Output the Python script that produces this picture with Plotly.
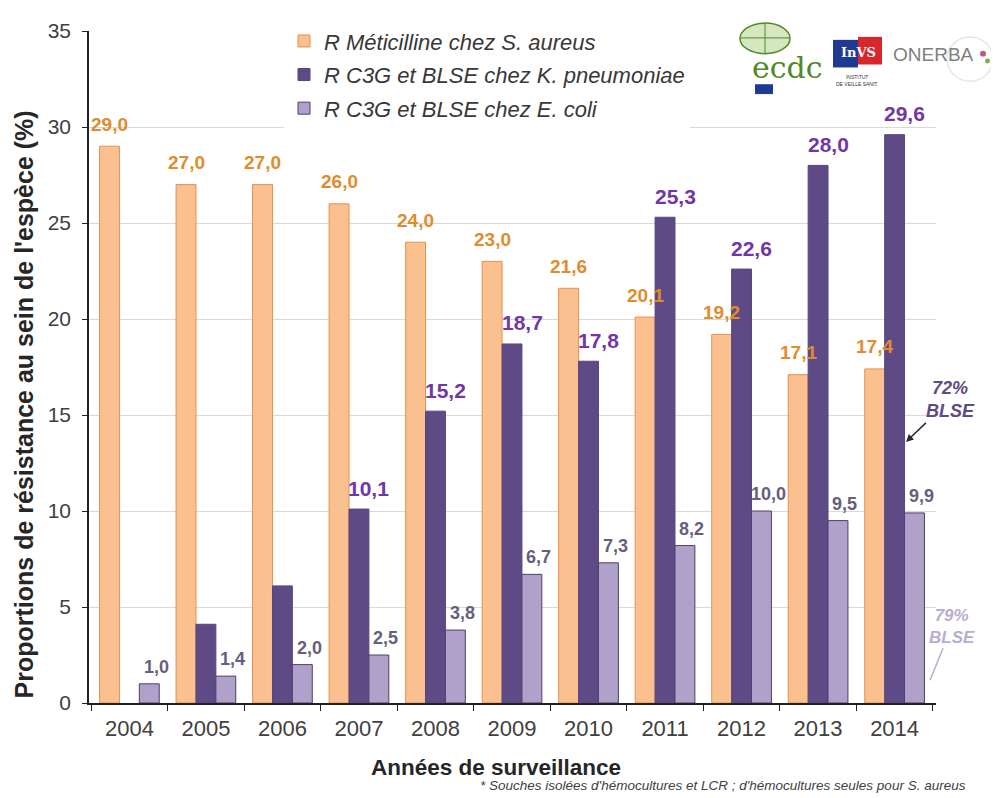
import plotly.graph_objects as go

years = ["2004", "2005", "2006", "2007", "2008", "2009", "2010", "2011", "2012", "2013", "2014"]
s_aureus = [29.0, 27.0, 27.0, 26.0, 24.0, 23.0, 21.6, 20.1, 19.2, 17.1, 17.4]
k_pneumo = [None, 4.1, 6.1, 10.1, 15.2, 18.7, 17.8, 25.3, 22.6, 28.0, 29.6]
k_pneumo_labelled = [False, False, False, True, True, True, True, True, True, True, True]
e_coli = [1.0, 1.4, 2.0, 2.5, 3.8, 6.7, 7.3, 8.2, 10.0, 9.5, 9.9]

names = ["R Méticilline chez S. aureus",
         "R C3G et BLSE chez K. pneumoniae",
         "R C3G et BLSE chez E. coli"]

FONT = "Arial, Liberation Sans, sans-serif"
# page has an 8px body margin, so the figure is 8px smaller than the window
W, H = 991, 790
# plot area in screen pixels
SX0, SX1, SY0, SY1 = 89, 936, 21, 703
L, T = SX0 - 8, SY0 - 8
R, B = W - (SX1 - 8), H - (SY1 - 8)


def px(x):
    return (x - SX0) / (SX1 - SX0)


def py(y):
    return (SY1 - y) / (SY1 - SY0)


fig = go.Figure()
fig.add_bar(x=years, y=s_aureus, name=names[0], legendgroup="a",
            marker=dict(color="#FAC090", line=dict(color="#E8904A", width=1)))
fig.add_bar(x=years, y=k_pneumo, name=names[1], legendgroup="b",
            marker=dict(color="#5E4A85", line=dict(color="#5A4680", width=1)))
fig.add_bar(x=years, y=e_coli, name=names[2], legendgroup="c",
            marker=dict(color="#B0A1CA", line=dict(color="#4F3F6B", width=1)))

BARGAP = 0.22
bw = (1 - BARGAP) / 3


def fmt(v):
    return f"{v:.1f}".replace(".", ",")


ann = []
series = [
    (s_aureus, [True] * len(years), -bw, 0, 22, "#E08C2E", 19),
    (k_pneumo, k_pneumo_labelled, 0, 10, 21, "#7236A8", 21),
    (e_coli, [True] * len(years), bw, 7, 17, "#66607E", 18),
]
for vals, show, off, xs, ys, col, fs in series:
    for i, v in enumerate(vals):
        if v is None or not show[i]:
            continue
        ann.append(dict(x=i + off, y=v, xref="x", yref="y", text=f"<b>{fmt(v)}</b>",
                        showarrow=False, xshift=xs, yshift=ys, xanchor="center", yanchor="middle",
                        font=dict(family=FONT, size=fs, color=col)))


def paper_text(x, y, text, size, color, family=FONT, xanchor="center", **kw):
    ann.append(dict(x=px(x), y=py(y), xref="paper", yref="paper", text=text,
                    showarrow=False, xanchor=xanchor, yanchor="middle",
                    font=dict(family=family, size=size, color=color), **kw))


# axis titles
paper_text(24, 400, "<b>Proportions de résistance au sein de l'espèce (%)</b>", 25, "#262626",
           textangle=-90)
paper_text(496, 768, "<b>Années de surveillance</b>", 22.5, "#262626")
# footnote
paper_text(968, 787,
           "<i>* Souches isolées d'hémocultures et LCR ; d'hémocultures seules pour S. aureus</i>",
           13.5, "#404040", xanchor="right")
# BLSE callouts
ann.append(dict(x=px(906), y=py(438), xref="paper", yref="paper", ax=44, ay=-42,
                text="<i><b>72%<br>BLSE</b></i>", showarrow=True, arrowhead=2,
                arrowsize=1, arrowwidth=1.5, arrowcolor="#2E2640",
                font=dict(family=FONT, size=18, color="#5E4A85")))
ann.append(dict(x=px(930), y=py(680), xref="paper", yref="paper", ax=22, ay=-54,
                text="<i><b>79%<br>BLSE</b></i>", showarrow=True, arrowhead=0,
                arrowwidth=1.5, arrowcolor="#B8AECF",
                font=dict(family=FONT, size=17, color="#B8AECF")))
# logos (approximations)
paper_text(787, 58, "ecdc", 30, "#4E8A2A", family="DejaVu Serif, serif")
paper_text(858, 43, "<b>InVS</b>", 13, "#FFFFFF", family="DejaVu Serif, serif")
paper_text(857, 71, "INSTITUT<br>DE VEILLE SANIT.", 5, "#333333")
paper_text(933, 45, "ONERBA", 19, "#7F7F7F")

shapes = [
    dict(type="rect", xref="paper", yref="paper", x0=px(822), x1=px(999), y0=py(8), y1=py(90),
         fillcolor="white", line=dict(width=0), layer="above"),
    # globe
    dict(type="circle", xref="paper", yref="paper", x0=px(740), x1=px(790), y0=py(44), y1=py(13),
         fillcolor="#D5E6C0", line=dict(color="#4E8A2A", width=1.5), layer="above"),
    dict(type="line", xref="paper", yref="paper", x0=px(765), x1=px(765), y0=py(44), y1=py(13),
         line=dict(color="#4E8A2A", width=1), layer="above"),
    dict(type="line", xref="paper", yref="paper", x0=px(740), x1=px(790), y0=py(28), y1=py(28),
         line=dict(color="#4E8A2A", width=1), layer="above"),
    # EU flag
    dict(type="rect", xref="paper", yref="paper", x0=px(755), x1=px(773), y0=py(85), y1=py(75),
         fillcolor="#1F3A93", line=dict(width=0), layer="above"),
    # InVS flag
    dict(type="rect", xref="paper", yref="paper", x0=px(833), x1=px(858), y0=py(58), y1=py(30),
         fillcolor="#1F3A93", line=dict(width=0), layer="above"),
    dict(type="rect", xref="paper", yref="paper", x0=px(858), x1=px(882), y0=py(55), y1=py(27),
         fillcolor="#D7262C", line=dict(width=0), layer="above"),
    # ONERBA circle + dots
    dict(type="circle", xref="paper", yref="paper", x0=px(947), x1=px(993), y0=py(72), y1=py(27),
         fillcolor="rgba(0,0,0,0)", line=dict(color="#E6E6E6", width=1.5), layer="above"),
    dict(type="circle", xref="paper", yref="paper", x0=px(980), x1=px(986), y0=py(47), y1=py(41),
         fillcolor="#C0587E", line=dict(width=0), layer="above"),
    dict(type="circle", xref="paper", yref="paper", x0=px(985), x1=px(990), y0=py(54), y1=py(49),
         fillcolor="#7DB04A", line=dict(width=0), layer="above"),
]

fig.update_layout(
    width=W, height=H,
    margin=dict(l=L, r=R, t=T, b=B),
    paper_bgcolor="white", plot_bgcolor="white",
    barmode="group", bargap=BARGAP, bargroupgap=0,
    font=dict(family=FONT, color="#404040"),
    legend=dict(x=px(284), y=py(10), xanchor="left", yanchor="top",
                bgcolor="white", borderwidth=0, tracegroupgap=2,
                font=dict(family=FONT, size=22, color="#383838", style="italic")),
    xaxis=dict(type="category", tickson="boundaries", ticks="outside", ticklen=6,
               tickcolor="#222222", showline=True, linecolor="#222222", linewidth=1.5,
               ticklabelstandoff=5,
               tickfont=dict(family=FONT, size=22, color="#404040"), showgrid=False),
    yaxis=dict(range=[0, 35], dtick=5, ticks="outside", ticklen=5, tickcolor="#222222",
               showline=True, linecolor="#222222", linewidth=1.5,
               gridcolor="#D9D9D9", zeroline=False, ticklabelstandoff=7,
               tickfont=dict(family=FONT, size=21, color="#404040")),
    annotations=ann,
    shapes=shapes,
)

fig.write_html("out.html")
